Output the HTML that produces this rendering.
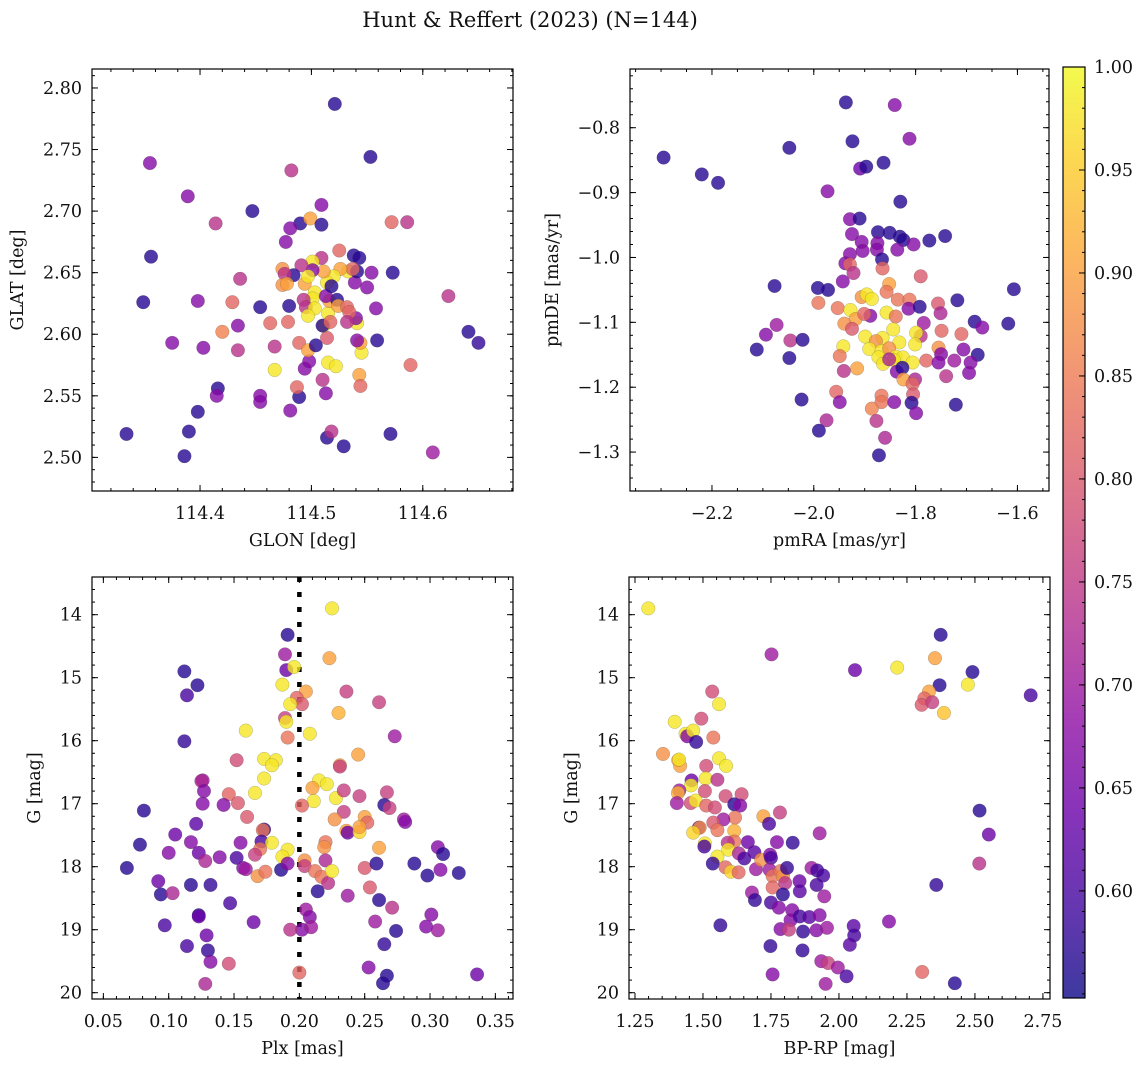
<!DOCTYPE html>
<html><head><meta charset="utf-8">
<style>
html,body{margin:0;padding:0;background:#fff;}
svg{display:block;font-family:"DejaVu Serif","Liberation Serif",serif;}
</style></head>
<body>
<svg id="fig" width="1148" height="1067" viewBox="0 0 1148 1067" xmlns="http://www.w3.org/2000/svg">
<text x="530" y="27" font-size="21" text-anchor="middle" fill="#111">Hunt &amp; Reffert (2023) (N=144)</text>
</svg>
<script>
// ---------- Panel 1: GLON vs GLAT ----------
const p1Lon=[114.521,114.553,114.355,114.482,114.389,114.447,114.414,114.509,114.490,114.499,114.509,114.481,114.477,114.572,114.586,114.356,114.349,114.398,114.436,114.429,114.454,114.480,114.463,114.479,114.434,114.420,114.434,114.375,114.403,114.467,114.467,114.416,114.415,114.398,114.390,114.334,114.386,114.454,114.454,114.481,114.489,114.487,114.494,114.498,114.489,114.497,114.504,114.514,114.510,114.513,114.514,114.518,114.529,114.571,114.609,114.589,114.543,114.544,114.545,114.544,114.541,114.515,114.522,114.559,114.541,114.540,114.558,114.573,114.554,114.550,114.539,114.533,114.525,114.538,114.543,114.541,114.537,114.526,114.520,114.514,114.511,114.509,114.501,114.501,114.491,114.484,114.474,114.476,114.474,114.478,114.494,114.497,114.503,114.501,114.493,114.495,114.503,114.497,114.511,114.510,114.515,114.516,114.523,114.524,114.532,114.534,114.532,114.517,114.513,114.623,114.641,114.650,114.518];
const p1Lat=[2.787,2.744,2.739,2.733,2.712,2.700,2.690,2.705,2.690,2.694,2.689,2.686,2.675,2.691,2.691,2.663,2.626,2.627,2.645,2.626,2.622,2.623,2.609,2.610,2.607,2.602,2.587,2.593,2.589,2.590,2.571,2.556,2.550,2.537,2.521,2.519,2.501,2.550,2.545,2.538,2.549,2.557,2.572,2.578,2.593,2.587,2.591,2.597,2.563,2.552,2.516,2.521,2.509,2.519,2.504,2.575,2.567,2.558,2.585,2.593,2.595,2.577,2.574,2.595,2.609,2.613,2.621,2.650,2.650,2.638,2.642,2.651,2.668,2.664,2.662,2.651,2.653,2.653,2.647,2.642,2.651,2.662,2.659,2.652,2.656,2.648,2.653,2.649,2.640,2.641,2.641,2.647,2.634,2.629,2.628,2.622,2.621,2.615,2.607,2.607,2.617,2.627,2.628,2.623,2.622,2.618,2.610,2.610,2.631,2.631,2.602,2.593,2.639];
const p1Prob=[0.57,0.57,0.67,0.74,0.67,0.57,0.74,0.67,0.57,0.90,0.57,0.67,0.67,0.82,0.74,0.57,0.57,0.67,0.74,0.82,0.57,0.57,0.82,0.82,0.67,0.86,0.74,0.67,0.67,0.74,0.98,0.57,0.67,0.57,0.57,0.57,0.57,0.67,0.67,0.67,0.57,0.82,0.67,0.67,0.82,0.90,0.57,0.80,0.74,0.67,0.57,0.74,0.57,0.57,0.70,0.82,0.90,0.82,0.98,0.90,0.67,0.98,0.98,0.57,0.98,0.67,0.67,0.57,0.67,0.67,0.67,0.98,0.82,0.57,0.57,0.57,0.82,0.90,0.98,0.98,0.90,0.74,0.98,0.67,0.74,0.57,0.88,0.74,0.88,0.90,0.90,0.98,0.98,0.98,0.74,0.74,0.98,0.98,0.98,0.57,0.98,0.90,0.57,0.90,0.82,0.82,0.74,0.82,0.67,0.74,0.57,0.58,0.57];

// ---------- Panel 2: pmRA vs pmDE ----------
const p2PmRA=[-2.295,-2.220,-2.188,-2.048,-1.937,-1.841,-1.924,-1.812,-1.909,-1.897,-1.863,-1.973,-1.830,-1.929,-1.910,-1.925,-1.874,-1.851,-1.831,-1.824,-1.804,-1.773,-1.742,-1.906,-1.904,-1.875,-1.876,-1.836,-1.929,-1.866,-1.938,-1.929,-1.922,-1.865,-1.790,-1.943,-2.077,-1.992,-1.972,-1.607,-1.991,-1.953,-1.906,-1.896,-1.886,-1.852,-1.857,-1.835,-1.812,-1.814,-1.792,-1.756,-1.751,-1.718,-1.928,-1.918,-1.889,-1.901,-1.857,-1.839,-1.784,-1.940,-1.925,-2.073,-2.094,-2.046,-2.022,-2.112,-2.048,-1.684,-1.669,-1.618,-1.749,-1.710,-1.790,-1.799,-1.844,-1.899,-1.865,-1.878,-1.832,-1.801,-1.942,-1.949,-1.891,-1.867,-1.852,-1.873,-1.839,-1.825,-1.843,-1.864,-1.806,-1.852,-1.755,-1.750,-1.706,-1.678,-1.779,-1.755,-1.724,-1.692,-1.695,-1.740,-1.915,-1.941,-1.837,-1.826,-1.824,-1.801,-1.806,-1.805,-1.956,-1.949,-2.024,-1.867,-1.867,-1.842,-1.808,-1.799,-1.886,-1.721,-1.975,-1.990,-1.877,-1.860,-1.872];
const p2PmDE=[-0.846,-0.872,-0.885,-0.831,-0.761,-0.765,-0.821,-0.817,-0.863,-0.860,-0.854,-0.898,-0.914,-0.941,-0.940,-0.964,-0.961,-0.962,-0.968,-0.973,-0.980,-0.974,-0.967,-0.976,-0.990,-0.978,-0.988,-0.988,-0.995,-1.003,-1.009,-1.011,-1.024,-1.017,-1.029,-1.037,-1.044,-1.047,-1.050,-1.049,-1.070,-1.078,-1.061,-1.057,-1.064,-1.041,-1.053,-1.065,-1.065,-1.079,-1.076,-1.071,-1.086,-1.066,-1.081,-1.095,-1.090,-1.087,-1.085,-1.091,-1.101,-1.102,-1.110,-1.104,-1.119,-1.128,-1.127,-1.142,-1.155,-1.099,-1.108,-1.102,-1.113,-1.118,-1.121,-1.116,-1.111,-1.122,-1.124,-1.129,-1.131,-1.134,-1.137,-1.152,-1.141,-1.144,-1.140,-1.154,-1.153,-1.154,-1.158,-1.164,-1.162,-1.157,-1.139,-1.149,-1.142,-1.150,-1.159,-1.162,-1.159,-1.162,-1.178,-1.183,-1.171,-1.175,-1.176,-1.170,-1.188,-1.188,-1.195,-1.211,-1.207,-1.223,-1.219,-1.213,-1.223,-1.223,-1.224,-1.240,-1.233,-1.227,-1.251,-1.267,-1.252,-1.278,-1.305];
const p2Prob=[0.57,0.57,0.57,0.57,0.57,0.67,0.57,0.67,0.64,0.57,0.57,0.67,0.57,0.67,0.57,0.67,0.57,0.57,0.57,0.57,0.67,0.57,0.57,0.67,0.67,0.67,0.67,0.67,0.67,0.57,0.67,0.82,0.74,0.82,0.80,0.67,0.57,0.57,0.57,0.57,0.84,0.84,0.88,0.98,0.98,0.90,0.84,0.84,0.84,0.67,0.57,0.80,0.72,0.57,0.98,0.90,0.67,0.82,0.98,0.84,0.70,0.88,0.80,0.70,0.67,0.74,0.57,0.57,0.57,0.57,0.67,0.57,0.82,0.82,0.74,0.98,0.98,0.98,0.98,0.88,0.98,0.98,0.98,0.84,0.98,0.98,0.88,0.98,0.98,0.98,0.98,0.98,0.98,0.72,0.88,0.67,0.67,0.57,0.82,0.67,0.70,0.67,0.67,0.74,0.90,0.74,0.67,0.57,0.90,0.72,0.82,0.80,0.82,0.67,0.57,0.84,0.84,0.67,0.57,0.67,0.86,0.57,0.72,0.57,0.74,0.72,0.57];

// ---------- Panel 3: Plx vs G ----------
const p3Plx=[0.225,0.191,0.189,0.190,0.196,0.223,0.112,0.122,0.114,0.187,0.205,0.198,0.202,0.193,0.236,0.261,0.230,0.189,0.190,0.159,0.208,0.191,0.112,0.273,0.152,0.173,0.182,0.179,0.245,0.231,0.231,0.173,0.166,0.126,0.125,0.127,0.126,0.146,0.153,0.142,0.160,0.215,0.221,0.210,0.211,0.202,0.228,0.234,0.246,0.267,0.265,0.269,0.234,0.227,0.250,0.252,0.236,0.237,0.246,0.246,0.280,0.281,0.081,0.121,0.078,0.105,0.100,0.117,0.123,0.128,0.068,0.092,0.094,0.103,0.117,0.132,0.139,0.152,0.155,0.157,0.159,0.147,0.173,0.172,0.171,0.179,0.170,0.166,0.168,0.174,0.186,0.191,0.187,0.191,0.220,0.219,0.204,0.204,0.212,0.217,0.222,0.220,0.225,0.261,0.250,0.259,0.288,0.306,0.310,0.298,0.308,0.322,0.254,0.214,0.237,0.261,0.271,0.205,0.208,0.202,0.209,0.193,0.165,0.123,0.123,0.097,0.129,0.114,0.130,0.132,0.146,0.128,0.200,0.258,0.274,0.265,0.301,0.297,0.306,0.253,0.267,0.264,0.336];
const p3G=[13.90,14.32,14.63,14.88,14.83,14.69,14.90,15.12,15.28,15.11,15.22,15.32,15.42,15.42,15.22,15.39,15.56,15.64,15.70,15.84,15.89,15.95,16.01,15.93,16.31,16.29,16.31,16.39,16.22,16.39,16.41,16.60,16.83,16.63,16.64,16.80,17.00,16.85,16.99,17.02,17.21,16.63,16.69,16.75,16.96,17.03,16.91,16.79,16.88,16.82,17.02,17.07,17.13,17.25,17.21,17.30,17.43,17.46,17.45,17.37,17.25,17.29,17.11,17.32,17.65,17.49,17.78,17.61,17.78,17.91,18.02,18.23,18.44,18.42,18.29,18.29,17.85,17.86,17.62,18.02,18.04,18.58,17.41,17.42,17.60,17.62,17.72,17.81,18.15,18.08,18.05,17.73,17.84,17.95,17.61,17.69,17.90,17.99,18.07,18.16,18.26,17.90,18.07,17.70,18.02,17.95,17.95,17.69,17.80,18.14,18.05,18.10,18.33,18.39,18.46,18.53,18.65,18.68,18.80,19.00,18.96,19.00,18.88,18.77,18.79,18.93,19.09,19.26,19.33,19.51,19.54,19.86,19.68,18.87,19.02,19.23,18.76,18.95,19.01,19.60,19.73,19.85,19.71];
const p3Prob=[0.98,0.57,0.70,0.64,0.98,0.90,0.57,0.57,0.60,0.98,0.90,0.82,0.80,0.98,0.76,0.76,0.92,0.76,0.98,0.98,0.98,0.84,0.58,0.70,0.78,0.98,0.98,0.98,0.90,0.90,0.76,0.98,0.98,0.70,0.72,0.67,0.67,0.82,0.80,0.67,0.80,0.98,0.98,0.90,0.98,0.82,0.98,0.76,0.76,0.76,0.57,0.76,0.76,0.88,0.90,0.82,0.90,0.64,0.96,0.90,0.70,0.67,0.57,0.62,0.57,0.64,0.67,0.67,0.64,0.72,0.57,0.64,0.57,0.72,0.57,0.58,0.67,0.60,0.67,0.67,0.70,0.60,0.57,0.84,0.60,0.98,0.84,0.76,0.88,0.84,0.57,0.98,0.98,0.67,0.84,0.88,0.88,0.76,0.84,0.84,0.74,0.72,0.98,0.90,0.80,0.57,0.57,0.67,0.57,0.57,0.67,0.57,0.80,0.57,0.70,0.57,0.74,0.70,0.67,0.67,0.70,0.74,0.64,0.57,0.64,0.60,0.64,0.60,0.58,0.67,0.78,0.72,0.82,0.70,0.57,0.58,0.67,0.67,0.70,0.67,0.57,0.57,0.64];

// ---------- Panel 4: BP-RP vs G ----------
const p4BpRp=[1.299,1.752,2.059,2.214,2.374,2.353,2.491,2.370,2.474,2.705,2.331,2.314,2.304,2.343,2.386,1.534,1.559,1.396,1.494,1.436,1.442,1.464,1.475,1.538,1.353,1.409,1.416,1.412,1.559,1.585,1.512,1.510,1.553,1.458,1.456,1.413,1.408,1.404,1.455,1.473,1.507,1.583,1.642,1.512,1.544,1.615,1.637,1.618,1.575,1.538,1.722,1.783,1.743,1.929,1.485,1.488,1.464,1.553,1.615,1.615,1.507,1.505,1.591,1.593,1.632,1.665,1.772,1.830,1.553,1.536,1.583,1.603,1.631,1.652,1.689,1.695,1.714,1.747,1.750,1.745,1.756,1.785,1.794,1.809,1.756,1.802,1.794,1.855,1.856,1.899,1.920,1.942,1.918,1.946,1.680,1.691,1.750,1.779,1.828,1.822,1.856,1.891,1.929,1.785,1.816,1.868,1.917,1.956,2.054,2.056,2.040,2.184,1.564,1.748,1.866,1.935,1.960,1.996,2.028,1.951,1.756,2.306,2.426,2.358,2.517,2.551,2.516];
const p4G=[13.90,14.63,14.88,14.84,14.32,14.69,14.91,15.12,15.11,15.28,15.22,15.33,15.43,15.39,15.56,15.22,15.42,15.70,15.65,15.89,15.93,15.84,16.02,15.95,16.21,16.31,16.40,16.30,16.28,16.40,16.40,16.60,16.62,16.63,16.71,16.79,16.83,16.99,16.99,16.95,16.80,16.88,16.85,17.03,17.06,17.01,17.03,17.22,17.25,17.30,17.20,17.14,17.32,17.47,17.38,17.38,17.46,17.42,17.43,17.60,17.63,17.68,17.62,17.73,17.79,17.61,17.61,17.62,17.84,17.95,18.01,18.08,18.09,17.87,17.77,18.04,17.89,17.81,17.86,18.05,18.15,18.07,18.15,18.02,18.33,18.26,18.44,18.23,18.39,18.02,18.06,18.14,18.29,18.47,18.41,18.53,18.57,18.65,18.69,18.85,18.79,18.80,18.77,18.99,19.00,19.03,19.01,18.97,18.94,19.09,19.24,18.87,18.93,19.26,19.33,19.50,19.53,19.60,19.74,19.86,19.71,19.67,19.85,18.29,17.11,17.49,17.95];
const p4Prob=[0.98,0.70,0.64,0.98,0.57,0.90,0.57,0.57,0.98,0.60,0.90,0.82,0.80,0.76,0.94,0.78,0.98,0.98,0.78,0.98,0.67,0.98,0.58,0.84,0.88,0.90,0.90,0.98,0.98,0.98,0.78,0.98,0.74,0.64,0.98,0.70,0.92,0.70,0.78,0.98,0.78,0.78,0.78,0.82,0.78,0.57,0.67,0.84,0.70,0.80,0.90,0.76,0.60,0.70,0.60,0.88,0.96,0.84,0.92,0.84,0.98,0.60,0.74,0.98,0.72,0.64,0.67,0.58,0.98,0.58,0.82,0.96,0.82,0.60,0.62,0.70,0.88,0.67,0.60,0.70,0.84,0.84,0.88,0.58,0.82,0.74,0.57,0.64,0.62,0.70,0.60,0.60,0.60,0.70,0.70,0.58,0.60,0.67,0.67,0.67,0.60,0.62,0.67,0.67,0.76,0.58,0.67,0.70,0.62,0.60,0.62,0.67,0.58,0.58,0.58,0.70,0.76,0.70,0.60,0.70,0.67,0.82,0.57,0.58,0.57,0.64,0.74];

const cbTicks=[0.60,0.65,0.70,0.75,0.80,0.85,0.90,0.95,1.00];
const CMIN=0.548, CMAX=1.0;

const NS="http://www.w3.org/2000/svg";
const svg=document.getElementById('fig');
const PLASMA=[[0,13,8,135],[0.1,65,4,157],[0.2,106,0,168],[0.3,143,13,164],[0.4,177,42,144],[0.5,204,71,120],[0.6,225,100,98],[0.7,242,132,75],[0.8,252,166,54],[0.9,252,206,37],[1,240,249,33]];
function plasma(t){t=Math.max(0,Math.min(1,t));for(let i=1;i<PLASMA.length;i++){if(t<=PLASMA[i][0]){const a=PLASMA[i-1],b=PLASMA[i],f=(t-a[0])/(b[0]-a[0]);return 'rgb('+[1,2,3].map(k=>Math.round(a[k]+(b[k]-a[k])*f)).join(',')+')';}}return 'rgb(240,249,33)';}
function colorOf(v){return plasma((v-CMIN)/(CMAX-CMIN));}
function mk(tag,attrs,parent){const e=document.createElementNS(NS,tag);for(const k in attrs)e.setAttribute(k,attrs[k]);(parent||svg).appendChild(e);return e;}
function fmt(v,d){let s=Math.abs(v).toFixed(d);return (v<-1e-9?'\u2212':'')+s;}

function ticksFor(min,max,step){const out=[];const s=Math.ceil(min/step-1e-6),e=Math.floor(max/step+1e-6);for(let i=s;i<=e;i++)out.push(i*step);return out;}

const TFS=17.5, AFS=17.5;
function panel(cfg){
  const g=mk('g',{});
  
  
  const L=cfg.x0,R=cfg.x1,T=cfg.y0,B=cfg.y1;
  const sx=v=>L+(v-cfg.xr[0])/(cfg.xr[1]-cfg.xr[0])*(R-L);
  const sy=cfg.invert? (v=>T+(v-cfg.yr[0])/(cfg.yr[1]-cfg.yr[0])*(B-T)) : (v=>B-(v-cfg.yr[0])/(cfg.yr[1]-cfg.yr[0])*(B-T));
  const clip=mk('clipPath',{id:'clip-'+cfg.name},g);
  mk('rect',{x:L,y:T,width:R-L,height:B-T},clip);
  const pts=mk('g',{'clip-path':'url(#clip-'+cfg.name+')'},g);
  
  
  if(cfg.vline!==undefined){
    const ln=mk('line',{x1:sx(cfg.vline),x2:sx(cfg.vline),y1:T,y2:B,stroke:'#000','stroke-width':4.5,'stroke-dasharray':'5,10'},pts);
    
    
  }
  for(let i=0;i<cfg.xs.length;i++){
    const c=mk('circle',{cx:sx(cfg.xs[i]),cy:sy(cfg.ys[i]),r:6.8,fill:colorOf(cfg.cs[i]),'fill-opacity':0.8,stroke:'rgba(60,60,60,0.35)','stroke-width':0.5},pts);
    
    
  }
  const fr=mk('rect',{x:L,y:T,width:R-L,height:B-T,fill:'none',stroke:'#000','stroke-width':1.2},g);
  
  
  const tk=mk('g',{stroke:'#000','stroke-width':1},g);
  for(const v of ticksFor(cfg.xr[0],cfg.xr[1],cfg.xminor)){const x=sx(v);mk('line',{x1:x,x2:x,y1:B,y2:B-3},tk);mk('line',{x1:x,x2:x,y1:T,y2:T+3},tk);}
  for(const v of ticksFor(cfg.yr[0],cfg.yr[1],cfg.yminor)){const y=sy(v);mk('line',{x1:L,x2:L+3,y1:y,y2:y},tk);mk('line',{x1:R,x2:R-3,y1:y,y2:y},tk);}
  for(const v of ticksFor(cfg.xr[0],cfg.xr[1],cfg.xmajor)){const x=sx(v);mk('line',{x1:x,x2:x,y1:B,y2:B-6},tk);mk('line',{x1:x,x2:x,y1:T,y2:T+6},tk);
    const t=mk('text',{x:x,y:B+28,'font-size':TFS,'text-anchor':'middle',fill:'#111'},g);t.textContent=fmt(v,cfg.xdec);
    
    }
  for(const v of ticksFor(cfg.yr[0],cfg.yr[1],cfg.ymajor)){const y=sy(v);mk('line',{x1:L,x2:L+6,y1:y,y2:y},tk);mk('line',{x1:R,x2:R-6,y1:y,y2:y},tk);
    const t=mk('text',{x:L-10,y:y+6,'font-size':TFS,'text-anchor':'end',fill:'#111'},g);t.textContent=fmt(v,cfg.ydec);
    
    }
  const xt=mk('text',{x:(L+R)/2,y:B+55,'font-size':AFS,'text-anchor':'middle',fill:'#111'},g);xt.textContent=cfg.xlabel;
  
  
  const yt=mk('text',{x:0,y:0,'font-size':AFS,'text-anchor':'middle',fill:'#111',transform:'translate('+cfg.ylx+','+((T+B)/2)+') rotate(-90)'},g);yt.textContent=cfg.ylabel;
  
  
}

panel({name:'glon-glat-panel',x0:92,x1:513,y0:69,y1:491,xr:[114.303,114.681],yr:[2.4727,2.8154],xs:p1Lon,ys:p1Lat,cs:p1Prob,xmajor:0.1,xminor:0.02,ymajor:0.05,yminor:0.01,xdec:1,ydec:2,xlabel:'GLON [deg]',ylabel:'GLAT [deg]',ylx:23});
panel({name:'proper-motion-panel',x0:630,x1:1049,y0:69,y1:491,xr:[-2.361,-1.538],yr:[-1.360,-0.7095],xs:p2PmRA,ys:p2PmDE,cs:p2Prob,xmajor:0.2,xminor:0.05,ymajor:0.1,yminor:0.02,xdec:1,ydec:1,xlabel:'pmRA [mas/yr]',ylabel:'pmDE [mas/yr]',ylx:558});
panel({name:'parallax-g-panel',x0:92,x1:513,y0:577,y1:999,xr:[0.0413,0.3635],yr:[13.402,20.10],invert:true,xs:p3Plx,ys:p3G,cs:p3Prob,xmajor:0.05,xminor:0.01,ymajor:1,yminor:0.2,xdec:2,ydec:0,xlabel:'Plx [mas]',ylabel:'G [mag]',ylx:40,vline:0.2});
panel({name:'cmd-panel',x0:629,x1:1050,y0:577,y1:999,xr:[1.228,2.776],yr:[13.402,20.10],invert:true,xs:p4BpRp,ys:p4G,cs:p4Prob,xmajor:0.25,xminor:0.05,ymajor:1,yminor:0.2,xdec:2,ydec:0,xlabel:'BP-RP [mag]',ylabel:'G [mag]',ylx:577});

// ---------- Colorbar ----------
(function(){
  const L=1063,R=1085,T=67,B=998;
  const g=mk('g',{});
  
  
  const defs=mk('defs',{},g);
  const lg=mk('linearGradient',{id:'cbgrad',x1:0,y1:1,x2:0,y2:0},defs);
  for(let i=0;i<=20;i++){const t=i/20;mk('stop',{offset:t,'stop-color':plasma(t)},lg);}
  mk('rect',{x:L,y:T,width:R-L,height:B-T,fill:'url(#cbgrad)','fill-opacity':0.8},g);
  mk('rect',{x:L,y:T,width:R-L,height:B-T,fill:'none',stroke:'#000','stroke-width':1.2},g);
  const sy=v=>B-(v-CMIN)/(CMAX-CMIN)*(B-T);
  const tk=mk('g',{stroke:'#000','stroke-width':1},g);
  for(const v of ticksFor(CMIN,CMAX,0.01)){const y=sy(v);mk('line',{x1:R,x2:R-3,y1:y,y2:y},tk);}
  for(const v of cbTicks){const y=sy(v);mk('line',{x1:R,x2:R-6,y1:y,y2:y},tk);
    const t=mk('text',{x:R+9,y:y+6,'font-size':TFS,fill:'#111'},g);t.textContent=v.toFixed(2);
    
    }
})();
</script>
</body></html>
